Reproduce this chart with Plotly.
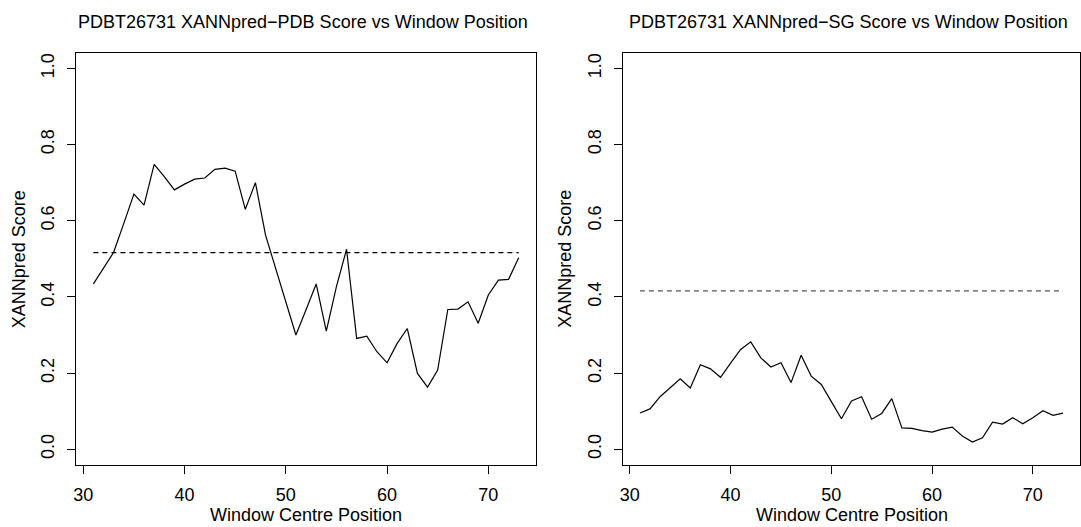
import plotly.graph_objects as go

positions = list(range(31, 74))
pdb_scores = [0.434, 0.475, 0.517, 0.593, 0.670, 0.641, 0.748, 0.716, 0.681, 0.696,
              0.709, 0.712, 0.735, 0.738, 0.730, 0.630, 0.700, 0.562, 0.474, 0.387,
              0.300, 0.366, 0.434, 0.310, 0.427, 0.525, 0.291, 0.297, 0.256, 0.227,
              0.278, 0.317, 0.199, 0.163, 0.208, 0.367, 0.368, 0.387, 0.331, 0.405,
              0.444, 0.446, 0.503]
sg_scores = [0.095, 0.106, 0.138, 0.162, 0.185, 0.161, 0.222, 0.211, 0.189, 0.226,
             0.262, 0.282, 0.240, 0.216, 0.227, 0.175, 0.247, 0.192, 0.170, 0.125,
             0.080, 0.127, 0.138, 0.079, 0.094, 0.133, 0.056, 0.055, 0.049, 0.045,
             0.053, 0.058, 0.035, 0.019, 0.030, 0.071, 0.066, 0.083, 0.067, 0.083,
             0.101, 0.089, 0.095]
pdb_threshold = 0.516
sg_threshold = 0.416
titles = ["PDBT26731 XANNpred\u2212PDB Score vs Window Position",
          "PDBT26731 XANNpred\u2212SG Score vs Window Position"]
x_title = "Window Centre Position"
y_title = "XANNpred Score"
x_ticks = [30, 40, 50, 60, 70]
y_ticks = [0.0, 0.2, 0.4, 0.6, 0.8, 1.0]

W, H = 1081, 527
FONT = "Liberation Sans, Arial, Helvetica, sans-serif"
FS = 18
boxes = [(76.4, 535.7), (623.0, 1080.0)]
top_px, bot_px = 53.1, 464.5
ydom = [1 - bot_px / H, 1 - top_px / H]

fig = go.Figure()
series = [pdb_scores, sg_scores]
thresholds = [pdb_threshold, sg_threshold]
dash_colors = ["black", "#555555"]
for i in range(2):
    xa = "x" if i == 0 else "x2"
    ya = "y" if i == 0 else "y2"
    fig.add_trace(go.Scatter(x=positions, y=series[i], mode="lines",
                             line=dict(color="black", width=1.2),
                             xaxis=xa, yaxis=ya, showlegend=False, hoverinfo="skip"))
    fig.add_trace(go.Scatter(x=[positions[0], positions[-1]], y=[thresholds[i]] * 2,
                             mode="lines",
                             line=dict(color=dash_colors[i], width=1.2, dash="5px,4px"),
                             xaxis=xa, yaxis=ya, showlegend=False, hoverinfo="skip"))

xspan = positions[-1] - positions[0]
xr = [positions[0] - 0.04 * xspan, positions[-1] + 0.04 * xspan]
yr = [-0.04, 1.04]

common_x = dict(range=xr, tickvals=x_ticks, ticks="outside", ticklen=8, tickwidth=1,
                tickcolor="black", showline=True, mirror=True, linecolor="black",
                linewidth=1, showgrid=False, zeroline=False,
                tickfont=dict(family=FONT, size=FS, color="black"),
                ticklabelstandoff=6, automargin=False)
common_y = dict(range=yr, tickvals=y_ticks, tickformat=".1f", ticks="outside", ticklen=8,
                tickwidth=1, tickcolor="black", showline=True, mirror=True,
                linecolor="black", linewidth=1, showgrid=False, zeroline=False,
                tickangle=-90, tickfont=dict(family=FONT, size=FS, color="black"),
                ticklabelstandoff=6, automargin=False)

fig.update_layout(
    width=W, height=H,
    margin=dict(l=0, r=0, t=0, b=0),
    paper_bgcolor="white", plot_bgcolor="white",
    xaxis=dict(domain=[boxes[0][0] / W, boxes[0][1] / W], anchor="y", **common_x),
    yaxis=dict(domain=ydom, anchor="x", **common_y),
    xaxis2=dict(domain=[boxes[1][0] / W, boxes[1][1] / W], anchor="y2", **common_x),
    yaxis2=dict(domain=ydom, anchor="x2", **common_y),
)

annots = []
for i, (l, r) in enumerate(boxes):
    cx = (l + r) / 2
    annots.append(dict(text=titles[i], x=(cx - 3) / W, y=1 - 22 / H, xref="paper", yref="paper",
                       xanchor="center", yanchor="middle", showarrow=False,
                       font=dict(family=FONT, size=FS, color="black")))
    annots.append(dict(text=x_title, x=cx / W, y=1 - 515 / H, xref="paper", yref="paper",
                       xanchor="center", yanchor="middle", showarrow=False,
                       font=dict(family=FONT, size=FS, color="black")))
    annots.append(dict(text=y_title, x=(l - 58) / W, y=1 - ((top_px + bot_px) / 2) / H,
                       xref="paper", yref="paper", textangle=-90,
                       xanchor="center", yanchor="middle", showarrow=False,
                       font=dict(family=FONT, size=FS, color="black")))
fig.update_layout(annotations=annots)

fig.write_html("out.html", config={"displayModeBar": False},
               post_script="document.body.style.margin='0';document.body.style.overflow='hidden';")
